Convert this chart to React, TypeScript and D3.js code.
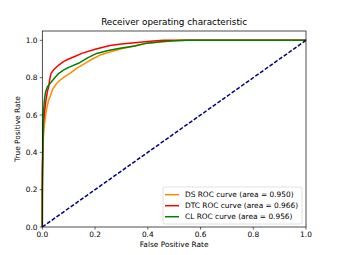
import * as d3 from "d3";
import React from "react";

// ROC points [fpr, tpr]
const dsRoc: [number, number][] = [
  [0, 0], [0, 0.02], [0.002, 0.3], [0.004, 0.48], [0.008, 0.55], [0.011, 0.58],
  [0.016, 0.63], [0.024, 0.68], [0.03, 0.7], [0.04, 0.74], [0.055, 0.77],
  [0.07, 0.79], [0.085, 0.805], [0.105, 0.823], [0.13, 0.85], [0.162, 0.877],
  [0.19, 0.9], [0.219, 0.921], [0.25, 0.935], [0.3, 0.955], [0.35, 0.97],
  [0.4, 0.985], [0.45, 0.993], [0.5, 0.998], [0.55, 1], [1, 1],
];
const dtcRoc: [number, number][] = [
  [0, 0], [0, 0.3], [0.004, 0.55], [0.008, 0.61], [0.014, 0.68], [0.02, 0.73],
  [0.024, 0.75], [0.028, 0.79], [0.033, 0.823], [0.045, 0.845], [0.06, 0.865],
  [0.08, 0.886], [0.1, 0.9], [0.125, 0.915], [0.15, 0.93], [0.2, 0.952],
  [0.257, 0.972], [0.3, 0.98], [0.37, 0.99], [0.42, 0.997], [0.46, 1], [1, 1],
];
const clRoc: [number, number][] = [
  [0, 0], [0, 0.2], [0.002, 0.4], [0.004, 0.61], [0.008, 0.68], [0.012, 0.72],
  [0.019, 0.75], [0.03, 0.77], [0.045, 0.795], [0.06, 0.82], [0.08, 0.84],
  [0.1, 0.855], [0.137, 0.877], [0.17, 0.905], [0.206, 0.93], [0.25, 0.945],
  [0.295, 0.958], [0.35, 0.97], [0.396, 0.985], [0.45, 0.993], [0.5, 0.998],
  [0.55, 1], [1, 1],
];
const chance: [number, number][] = [[0, 0], [1, 1]];

const seriesNames = ["DS", "DTC", "CL"];
const seriesAreas = [0.95, 0.966, 0.956];
const seriesColors = ["darkorange", "red", "green"];
const ticks = [0, 0.2, 0.4, 0.6, 0.8, 1.0];

export default function App() {
  const width = 340;
  const height = 255;
  const left = 42.3, right = 306, top = 31, bottom = 227;
  const font = "DejaVu Sans, sans-serif";

  const x = d3.scaleLinear().domain([0, 1]).range([left, right]);
  const y = d3.scaleLinear().domain([0, 1.05]).range([bottom, top]);
  const line = d3.line<[number, number]>().x((d) => x(d[0])).y((d) => y(d[1]));

  const curves = [dsRoc, dtcRoc, clRoc];

  return (
    <svg width={width} height={height} style={{ position: "absolute", left: 0, top: 0 }}>
      <rect width={width} height={height} fill="#fff" />
      <text x={(left + right) / 2} y={25} textAnchor="middle" fontFamily={font} fontSize={8.8}>
        Receiver operating characteristic
      </text>
      {curves.map((c, i) => (
        <path key={i} d={line(c) || ""} fill="none" stroke={seriesColors[i]} strokeWidth={1.5} strokeLinejoin="round" />
      ))}
      <path d={line(chance) || ""} fill="none" stroke="navy" strokeWidth={1.5} strokeDasharray="4,1.8" />

      {/* axes frame */}
      <rect x={left} y={top} width={right - left} height={bottom - top} fill="none" stroke="#000" strokeWidth={0.7} />
      {ticks.map((t) => (
        <g key={"x" + t}>
          <line x1={x(t)} x2={x(t)} y1={bottom} y2={bottom + 2.6} stroke="#000" strokeWidth={0.6} />
          <text x={x(t)} y={236.5} textAnchor="middle" fontFamily={font} fontSize={7.4}>{t.toFixed(1)}</text>
        </g>
      ))}
      {ticks.map((t) => (
        <g key={"y" + t}>
          <line x1={left - 2.6} x2={left} y1={y(t)} y2={y(t)} stroke="#000" strokeWidth={0.6} />
          <text x={37.5} y={y(t) + 2.7} textAnchor="end" fontFamily={font} fontSize={7.4}>{t.toFixed(1)}</text>
        </g>
      ))}
      <text x={(left + right) / 2} y={247} textAnchor="middle" fontFamily={font} fontSize={7.4}>
        False Positive Rate
      </text>
      <text transform={`translate(20,${(top + bottom) / 2}) rotate(-90)`} textAnchor="middle" fontFamily={font} fontSize={7.4}>
        True Positive Rate
      </text>

      {/* legend */}
      <rect x={163} y={187} width={139} height={37} rx={2} fill="#fff" fillOpacity={0.8} stroke="#ccc" strokeWidth={0.6} />
      {seriesNames.map((n, i) => {
        const ly = 194.7 + i * 11;
        return (
          <g key={n}>
            <line x1={165} x2={179} y1={ly} y2={ly} stroke={seriesColors[i]} strokeWidth={1.5} />
            <text x={185} y={ly + 2.7} fontFamily={font} fontSize={7.4}>
              {`${n} ROC curve (area = ${seriesAreas[i].toFixed(3)})`}
            </text>
          </g>
        );
      })}
    </svg>
  );
}
